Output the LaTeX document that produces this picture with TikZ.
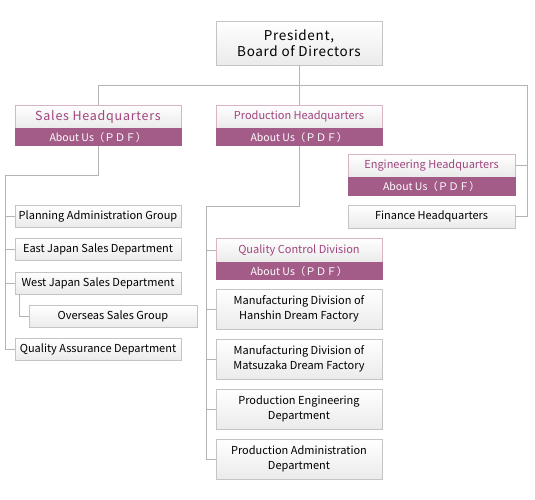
\documentclass[tikz,border=0pt]{standalone}
\usepackage{fontspec}
\setmainfont{Noto Sans CJK JP}
\usetikzlibrary{positioning}
\definecolor{plum}{HTML}{A35C88}
\definecolor{plumtext}{HTML}{A0457E}
\definecolor{plumline}{HTML}{D9B3C6}
\definecolor{boxline}{HTML}{C4C4C4}
\definecolor{linkgray}{HTML}{B4B4B4}
\tikzstyle{unit}=[draw=boxline,line width=.8pt,top color=white,bottom
color=black!8,minimum width=166pt,minimum height=22pt,inner sep=0pt,
align=center,text=black,font=\fontsize{11}{15}\selectfont]
\tikzstyle{unit2}=[unit,minimum height=40pt]
\tikzstyle{head}=[unit,draw=plumline,text=plumtext,minimum height=23pt,
font=\fontsize{11}{14}\selectfont]
\tikzstyle{pdfband}=[draw=plum,fill=plum,text=white,minimum width=166pt,
minimum height=17pt,inner sep=0pt,anchor=north,
font=\fontsize{10.5}{12}\selectfont]
\tikzstyle{link}=[draw=linkgray,line width=.8pt]

\begin{document}
\begin{tikzpicture}[x=1pt, y=-1pt, on grid, node distance=33.5pt]
  \useasboundingbox (0,0) rectangle (535,500);

  \node[unit,minimum height=44pt,
  font=\fontsize{13.5}{15.5}\selectfont\addfontfeature{LetterSpace=5}]
  (pres) at (299,43) {President,\\Board of Directors};

  \node[head,font=\fontsize{12.5}{14}\selectfont\addfontfeature{LetterSpace=6}]
  (sales) at (98,116.5) {Sales Headquarters};
  \node[pdfband] (salesp) at (sales.south) {About Us（ＰＤＦ）};
  \node[head] (prod) at (299,116.5) {Production Headquarters};
  \node[pdfband] (prodp) at (prod.south) {About Us（ＰＤＦ）};
  \node[head,minimum width=167pt] (eng) at (431.5,165.5) {Engineering Headquarters};
  \node[pdfband,minimum width=167pt,minimum height=18pt] (engp) at (eng.south)
  {About Us（ＰＤＦ）};
  \node[unit,minimum width=167pt,minimum height=23pt,below=of eng,yshift=-17.5pt]
  (fin) {Finance Headquarters};

  % sales column
  \node[unit] (plan) at (98,216) {Planning Administration Group};
  \node[unit,below=of plan] (east) {East Japan Sales Department};
  \node[unit,below=of east] (west) {West Japan Sales Department};
  \node[unit,below=of west,xshift=15pt,minimum width=168pt] (over)
  {Overseas Sales Group};
  \node[unit,below=of west,yshift=-33pt] (qa) {Quality Assurance Department};

  % production column
  \node[head,minimum height=24pt] (qc) at (299,250) {Quality Control Division};
  \node[pdfband] (qcp) at (qc.south) {About Us（ＰＤＦ）};
  \node[unit2,below=of qc,yshift=-25.5pt] (hanshin)
  {Manufacturing Division of\\Hanshin Dream Factory};
  \node[unit2,below=of hanshin,yshift=-16.5pt] (matsu)
  {Manufacturing Division of\\Matsuzaka Dream Factory};
  \node[unit2,below=of matsu,yshift=-16.5pt] (peng)
  {Production Engineering\\Department};
  \node[unit2,below=of peng,yshift=-16.5pt] (padm)
  {Production Administration\\Department};

  \coordinate (rt) at (527,85);
  \coordinate (sl) at (5,175);
  \coordinate (pl) at (206,206);

  \draw[link] (pres) -- (prod);
  \draw[link] (sales.north) |- (rt) |- (fin.east);
  \draw[link] (eng.east) -- (eng.east -| rt);

  \draw[link] (salesp.south) |- (sl) |- (qa.west);
  \draw[link] (plan.west) -- (plan.west -| sl);
  \draw[link] (east.west) -- (east.west -| sl);
  \draw[link] (west.west) -- (west.west -| sl);
  \draw[link] ([xshift=5pt]west.south west) |- (over.west);

  \draw[link] (prodp.south) |- (pl) |- (padm.west);
  \draw[link] (qc.west) -- (qc.west -| pl);
  \draw[link] (hanshin.west) -- (hanshin.west -| pl);
  \draw[link] (matsu.west) -- (matsu.west -| pl);
  \draw[link] (peng.west) -- (peng.west -| pl);
\end{tikzpicture}
\end{document}
